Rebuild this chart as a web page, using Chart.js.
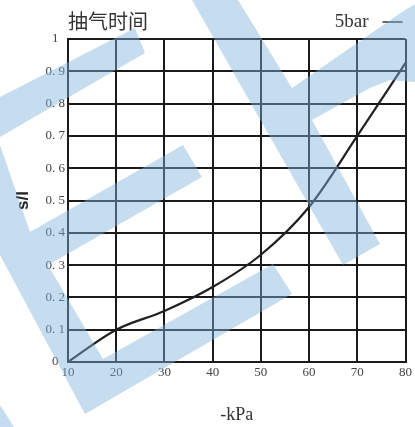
<!DOCTYPE html>
<html>
<head>
<meta charset="utf-8">
<script src="https://cdn.jsdelivr.net/npm/chart.js@4"></script>
<style>
  html, body { margin: 0; padding: 0; background: #fff; }
</style>
</head>
<body>
<canvas id="chart" width="415" height="427"></canvas>
<script>
const pressure = [10, 20, 30, 40, 50, 60, 70, 80];
const seconds = [0, 0.1, 0.158, 0.232, 0.332, 0.48, 0.7, 0.926];
const xTickLabels = ["10", "20", "30", "40", "50", "60", "70", "80"];
const yTickLabels = ["0", "0. 1", "0. 2", "0. 3", "0. 4", "0. 5", "0. 6", "0. 7", "0. 8", "0. 9", "1"];
const seriesName = "5bar";
const chartTitle = "抽气时间";

// light blue logo printed over the chart
const watermark = [
  [[0, 97], [135, 28], [145, 53], [0, 137]],
  [[0, 145], [30, 232], [183, 145], [202, 177], [48, 265], [103, 359], [273, 264], [292, 294], [85, 414], [0, 255]],
  [[192, 0], [238, 0], [292, 88], [405, 10], [415, 4], [415, 82], [390, 80], [370, 88], [312, 120], [380, 244], [343, 265]],
  [[0, 405], [14, 427], [0, 427]]
];

const decor = {
  id: "decor",
  afterDraw(chart) {
    const ctx = chart.ctx;
    const area = chart.chartArea;
    ctx.save();
    ctx.fillStyle = "#333";
    ctx.textBaseline = "middle";
    ctx.textAlign = "left";
    ctx.font = '20px "Noto Sans CJK SC"';
    ctx.fillText(chartTitle, area.left, 21);

    ctx.textAlign = "right";
    ctx.font = '19px "Liberation Serif"';
    ctx.fillText(chart.data.datasets[0].label, area.right - 37, 22);
    ctx.strokeStyle = "#333";
    ctx.lineWidth = 1.5;
    ctx.beginPath();
    ctx.moveTo(area.right - 23, 22);
    ctx.lineTo(area.right - 3, 22);
    ctx.stroke();

    ctx.fillStyle = "rgba(129, 178, 220, 0.45)";
    watermark.forEach(shape => {
      ctx.beginPath();
      shape.forEach((p, i) => i ? ctx.lineTo(p[0], p[1]) : ctx.moveTo(p[0], p[1]));
      ctx.closePath();
      ctx.fill();
    });
    ctx.restore();
  }
};

const tickFont = { family: "Liberation Serif", size: 13 };

new Chart(document.getElementById("chart"), {
  type: "line",
  data: {
    datasets: [{
      label: seriesName,
      data: pressure.map((p, i) => ({ x: p, y: seconds[i] })),
      borderColor: "#231f20",
      borderWidth: 2.2,
      pointRadius: 0,
      cubicInterpolationMode: "monotone",
      fill: false
    }]
  },
  options: {
    responsive: false,
    animation: false,
    layout: { padding: { top: 39, right: 0, left: 0, bottom: 0 } },
    plugins: {
      legend: { display: false },
      tooltip: { enabled: false }
    },
    scales: {
      x: {
        type: "linear",
        min: 10,
        max: 80,
        ticks: {
          stepSize: 10,
          autoSkip: false,
          maxRotation: 0,
          padding: 3,
          color: "#444",
          font: tickFont,
          callback: (v, i) => xTickLabels[i]
        },
        grid: { color: "#1a1a1a", lineWidth: 2, drawTicks: false },
        border: { color: "#1a1a1a", width: 2 },
        title: {
          display: true,
          text: "-kPa",
          color: "#333",
          font: { family: "Liberation Serif", size: 18 },
          padding: { top: 0, bottom: 1 }
        },
        afterFit: s => { s.height = 65; }
      },
      y: {
        min: 0,
        max: 1,
        ticks: {
          stepSize: 0.1,
          crossAlign: "center",
          padding: 3,
          color: "#444",
          font: tickFont,
          callback: (v, i) => yTickLabels[i]
        },
        grid: { color: "#1a1a1a", lineWidth: 2, drawTicks: false },
        border: { color: "#1a1a1a", width: 2 },
        title: {
          display: true,
          text: "s/l",
          color: "#222",
          font: { family: "Liberation Sans", size: 17, weight: "bold" },
          padding: { top: 13, bottom: 0 }
        },
        afterFit: s => { s.width = 68; }
      }
    }
  },
  plugins: [decor]
});
</script>
</body>
</html>
